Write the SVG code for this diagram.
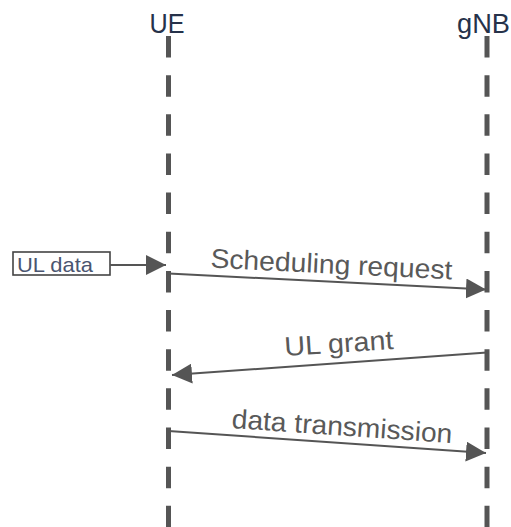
<svg xmlns="http://www.w3.org/2000/svg" width="511" height="527" viewBox="0 0 511 527">
  <defs>
    <marker id="arrow" viewBox="0 0 20 20" refX="20" refY="10" markerWidth="20" markerHeight="20" markerUnits="userSpaceOnUse" orient="auto">
      <path d="M0,0 L20,10 L0,20 z" fill="#555"/>
    </marker>
    <style>
      .actor { font-family: "Liberation Sans", Arial, sans-serif; font-size: 27px; fill: #26324a; text-anchor: middle; }
      .lifeline { stroke: #555; stroke-width: 5; stroke-dasharray: 21.5 17.65; fill: none; }
      .msg { stroke: #555; stroke-width: 2; fill: none; marker-end: url(#arrow); }
      .label { font-family: "Liberation Sans", Arial, sans-serif; font-size: 27px; fill: #595959; text-anchor: middle; }
      .box { fill: #fff; stroke: #444; stroke-width: 1.6; }
      .boxtext { font-family: "Liberation Sans", Arial, sans-serif; font-size: 21px; fill: #4a5570; }
    </style>
  </defs>

  <rect width="511" height="527" fill="#fff"/>

  <!-- participants -->
  <g id="ue">
    <text class="actor" x="167" y="32.5" textLength="35" lengthAdjust="spacingAndGlyphs">UE</text>
    <line class="lifeline" x1="168.5" y1="36" x2="168.5" y2="527"/>
  </g>
  <g id="gnb">
    <text class="actor" x="483.5" y="32.5" textLength="53" lengthAdjust="spacingAndGlyphs">gNB</text>
    <line class="lifeline" x1="487" y1="36" x2="487" y2="527"/>
  </g>

  <!-- trigger -->
  <g id="ul-data">
    <rect class="box" x="13" y="252" width="97" height="23"/>
    <text class="boxtext" x="17" y="271.5" textLength="76" lengthAdjust="spacingAndGlyphs">UL data</text>
  </g>

  <!-- messages -->
  <g id="connectors">
    <line class="msg" x1="110" y1="265" x2="166" y2="265"/>
    <line class="msg" x1="168.5" y1="273.5" x2="486" y2="289.5"/>
    <line class="msg" x1="487" y1="352.5" x2="172" y2="375"/>
    <line class="msg" x1="168.5" y1="431" x2="486" y2="453"/>
  </g>

  <g id="labels">
    <text class="label" x="331" y="273.5" textLength="242" lengthAdjust="spacingAndGlyphs" transform="rotate(2.8 331 273.5)">Scheduling request</text>
    <text class="label" x="339.5" y="352.5" textLength="109" lengthAdjust="spacingAndGlyphs" transform="rotate(-3.8 339.5 352.5)">UL grant</text>
    <text class="label" x="341.5" y="435.5" textLength="221" lengthAdjust="spacingAndGlyphs" transform="rotate(3.9 341.5 435.5)">data transmission</text>
  </g>
</svg>
